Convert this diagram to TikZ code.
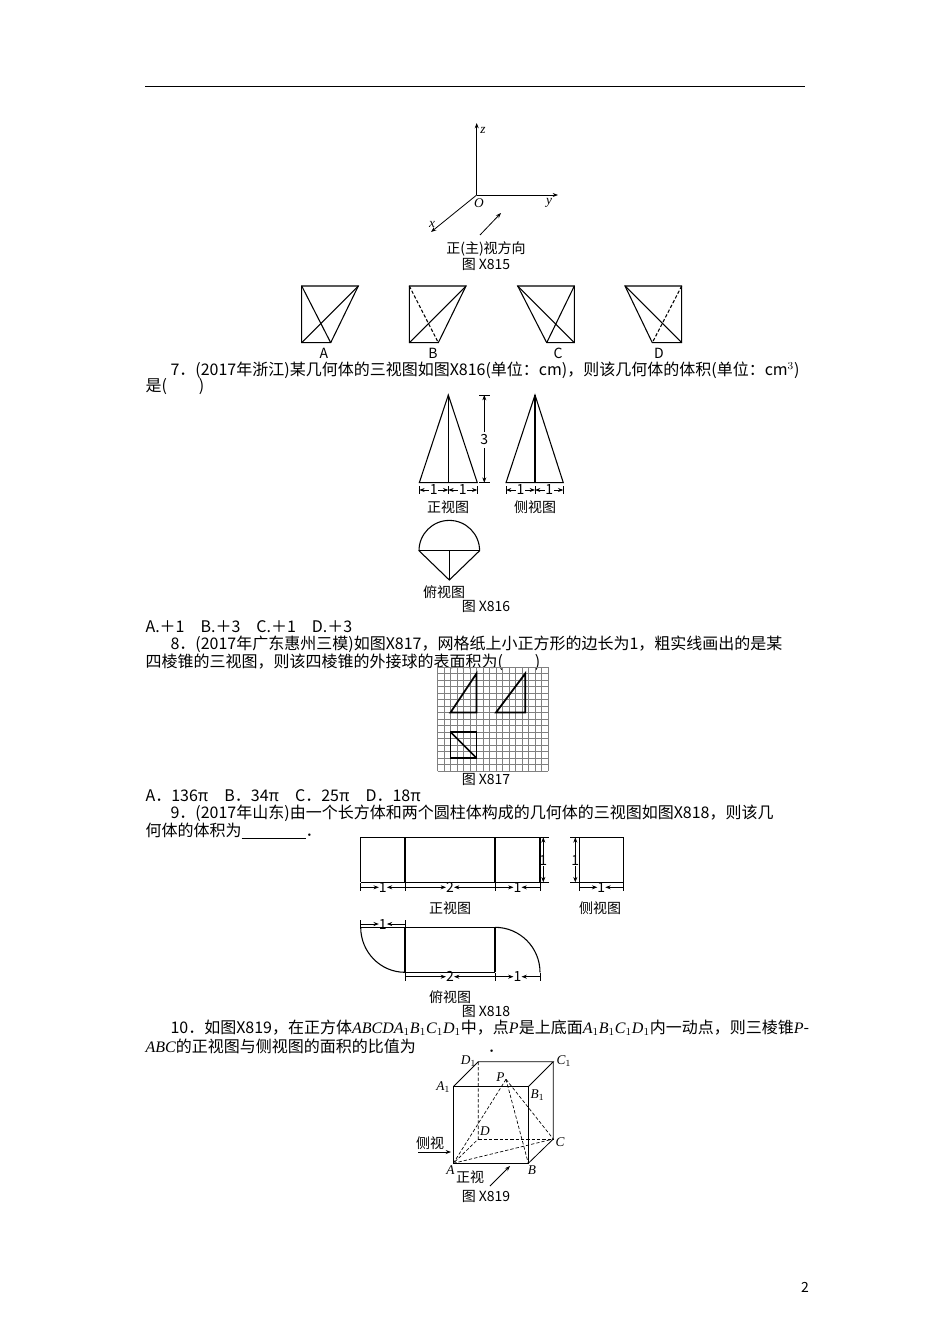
\documentclass[tikz,border=0pt]{standalone}
\usepackage{fontspec}
\setmainfont{Liberation Serif}
\newfontfamily\cjk{Noto Sans CJK SC}
\newcommand\mi[1]{{\rmfamily\itshape #1}}
\usetikzlibrary{arrows.meta}
\begin{document}
\begin{tikzpicture}[x=0.75pt,y=-0.75pt,line width=0.8pt,
  txt/.style={anchor=west,inner sep=0,font=\cjk\fontsize{12}{14}\selectfont},
  captxt/.style={inner sep=0,font=\cjk\fontsize{10.5}{12}\selectfont},
  lab/.style={inner sep=0,font=\fontsize{10}{12}\selectfont\itshape},
  dim/.style={line width=0.5pt},
  ar/.style={-{Stealth[length=4pt,width=3pt]},line width=0.6pt},
  dsh/.style={dashed,dash pattern=on 2.5pt off 1.5pt}]
\useasboundingbox (0,0) rectangle (950,1344);
\fill[white] (0,0) rectangle (950,1344);
\draw[line width=0.6pt] (145,86) -- (805,86);
% X815 axes
\coordinate (O) at (476.7,195);
\coordinate (Z) at (476.7,123);
\coordinate (Y) at (558,195);
\coordinate (X) at (431,232);
\draw[ar] (O)--(Z); \draw[ar] (O)--(Y); \draw[ar] (O)--(X);
\node[lab] at (483,130) {z};
\node[lab] at (549,203) {y};
\node[lab] at (432,224) {x};
\node[lab] at (479,203) {O};
\coordinate (v1) at (480,235); \coordinate (v2) at (501,213);
\draw[ar] (v1)--(v2);
\node[captxt] at (486,249) {正(主)视方向};
\node[captxt] at (486,264) {图 X815};
% options
\draw (301.7,286)--(358.3,286)--(330.7,342.7)--(301.7,342.7)--cycle;
\draw (301.7,286)--(330.7,342.7); \draw (301.7,342.7)--(358.3,286);
\node[captxt] at (324,353) {A};
\draw (409.3,286)--(466,286)--(438.3,342.7)--(409.3,342.7)--cycle;
\draw[dsh] (409.3,286)--(438.3,342.7); \draw (409.3,342.7)--(466,286);
\node[captxt] at (433,353) {B};
\draw (517.7,286)--(574.3,286)--(574.3,342.7)--(546.7,342.7)--cycle;
\draw (517.7,286)--(574.3,342.7); \draw (574.3,286)--(546.7,342.7);
\node[captxt] at (558,353) {C};
\draw (625,286)--(681.7,286)--(681.7,342.7)--(652.3,342.7)--cycle;
\draw (625,286)--(681.7,342.7); \draw[dsh] (681.7,286)--(652.3,342.7);
\node[captxt] at (659,353) {D};
\node[txt] at (170,370) {7．(2017年浙江)某几何体的三视图如图X816(单位：cm)，则该几何体的体积(单位：cm$^3$)};
\node[txt] at (145,387) {是(\hspace{2em})};
% X816
\draw (448.3,395)--(419.3,482.7)--(477.3,482.7)--cycle; \draw (448.3,395)--(448.3,482.7);
\draw[dim] (479,395)--(490,395); \draw[dim] (479,482.7)--(490,482.7);
\draw[ar] (484.3,432)--(484.3,395); \draw[ar] (484.3,448)--(484.3,482.7);
\node[captxt] at (484.3,440) {3};
\draw (535,395)--(506,482.7)--(563.3,482.7)--cycle; \draw (535,395)--(535,482.7);
\foreach \a/\b in {419.3/448.3,448.3/477.3,506/535,535/563.3}{
  \draw[dim] (\a,486)--(\a,494); \draw[dim] (\b,486)--(\b,494);
  \draw[ar] ({(\a+\b)/2-3},490)--(\a,490); \draw[ar] ({(\a+\b)/2+3},490)--(\b,490);
  \node[captxt,fill=white,inner sep=0.5pt] at ({(\a+\b)/2},490) {1};}
\node[captxt] at (448,507) {正视图};
\node[captxt] at (535,507) {侧视图};
\draw (419,550.7) arc[start angle=180,end angle=0,radius=30.3*0.75pt]--(449.3,580)--cycle;
\draw (419,550.7)--(479.6,550.7);
\draw (449.3,550.7)--(449.3,580);
\node[captxt] at (444,592) {俯视图};
\node[captxt] at (486,606) {图 X816};
\node[txt] at (145,627) {A.＋1\quad B.＋3\quad C.＋1\quad D.＋3};
\node[txt] at (170,644) {8．(2017年广东惠州三模)如图X817，网格纸上小正方形的边长为1，粗实线画出的是某};
\node[txt] at (145,662) {四棱锥的三视图，则该四棱锥的外接球的表面积为(\hspace{2em})};
% X817 grid
\begin{scope}[shift={(437.5,667)}]
\draw[line width=0.35pt,gray] (0,0) grid[xstep=6.5,ystep=-6.5] (110.5,104);
\draw[line width=1.3pt] (13,45.5)--(39,6.5)--(39,45.5)--cycle;
\draw[line width=1.3pt] (58.5,45.5)--(87.75,6.5)--(87.75,45.5)--cycle;
\draw[line width=1.3pt] (13,65)--(39,65)--(39,91)--(13,91)--cycle;
\draw[line width=1.3pt] (13,65)--(39,91);
\end{scope}
\node[captxt] at (486,779) {图 X817};
\node[txt] at (145,796) {A．136π\quad B．34π\quad C．25π\quad D．18π};
\node[txt] at (170,813) {9．(2017年山东)由一个长方体和两个圆柱体构成的几何体的三视图如图X818，则该几};
\node[txt] at (145,831) {何体的体积为\underline{\hspace{4em}}．};
% X818 front
\draw (360.7,837.3)--(549.3,837.3); \draw (360.7,882.3)--(549.3,882.3);
\draw (360.7,837.3)--(360.7,882.3); \draw (405,837.3)--(405,882.3);
\draw (495,837.3)--(495,882.3); \draw (540,837.3)--(540,882.3);
\draw[ar] (543.3,855)--(543.3,837.3); \draw[ar] (543.3,866)--(543.3,882.3);
\node[captxt] at (543.3,860) {1};
\foreach \a/\b/\t/\yy in {360.7/405/1/887.3,405/495/2/887.3,495/540/1/887.3,579.3/623.3/1/887.3,405/495/2/976.7,495/540/1/976.7,360.7/405/1/924}{
  \draw[dim] (\a,\yy-4)--(\a,\yy+4); \draw[dim] (\b,\yy-4)--(\b,\yy+4);
  \draw[ar] (\a,\yy)--({(\a+\b)/2-4},\yy); \draw[ar] (\b,\yy)--({(\a+\b)/2+4},\yy);
  \node[captxt] at ({(\a+\b)/2},\yy) {\t};}
\draw (579.3,837.3) rectangle (623.3,882.3);
\draw[dim] (570,837.3)--(579.3,837.3); \draw[dim] (570,882.3)--(579.3,882.3);
\draw[ar] (575.3,855)--(575.3,837.3); \draw[ar] (575.3,866)--(575.3,882.3);
\node[captxt] at (575.3,860) {1};
\node[captxt] at (450,908) {正视图};
\node[captxt] at (600,908) {侧视图};
\draw (360.7,927.3)--(495,927.3);
\draw (360.7,927.3) arc[start angle=180,end angle=270,x radius=44.3*0.75pt,y radius=45*0.75pt];
\draw (405,972.3)--(495,972.3);
\draw (405,927.3)--(405,972.3); \draw (495,927.3)--(495,972.3);
\draw (495,927.3) arc[start angle=90,end angle=0,radius=45*0.75pt];
\node[captxt] at (450,997) {俯视图};
\node[captxt] at (486,1011) {图 X818};
\node[txt] at (170,1028) {10．如图X819，在正方体\mi{ABCDA}$_1$\mi{B}$_1$\mi{C}$_1$\mi{D}$_1$中，点\mi{P}是上底面\mi{A}$_1$\mi{B}$_1$\mi{C}$_1$\mi{D}$_1$内一动点，则三棱锥\mi{P}-};
\node[txt] at (145,1046) {\mi{ABC}的正视图与侧视图的面积的比值为\hspace{4.5em}．};
% X819 cube
\coordinate (A1) at (453.3,1086.7); \coordinate (B1) at (528.3,1086.7);
\coordinate (A) at (453.3,1163.3); \coordinate (B) at (528.3,1163.3);
\coordinate (D1) at (478.3,1061.7); \coordinate (C1) at (553.3,1061.7);
\coordinate (C) at (553.3,1139); \coordinate (D) at (478.3,1139);
\coordinate (P) at (506,1079.3);
\draw[line width=0.6pt] (A)--(B)--(B1)--(A1)--cycle;
\draw[line width=0.6pt] (A1)--(D1)--(C1)--(B1); \draw[line width=0.6pt] (C1)--(C)--(B);
\draw[dsh,line width=0.5pt] (D1)--(D)--(A); \draw[dsh,line width=0.5pt] (D)--(C);
\draw[dsh,line width=0.5pt] (P)--(A); \draw[dsh,line width=0.5pt] (P)--(B);
\draw[dsh,line width=0.5pt] (P)--(C); \draw[dsh,line width=0.5pt] (A)--(C);
\node[lab,anchor=east] at (477,1061) {D$_1$};
\node[lab,anchor=west] at (556,1061) {C$_1$};
\node[lab,anchor=east] at (451,1087) {A$_1$};
\node[lab,anchor=west] at (530,1095) {B$_1$};
\node[lab,anchor=east] at (505,1077) {P};
\node[lab] at (485,1131) {D};
\node[lab,anchor=west] at (555,1142) {C};
\node[lab] at (532,1170) {B};
\node[lab,anchor=east] at (455,1170) {A};
\node[captxt] at (430,1143) {侧视};
\coordinate (s1) at (418,1152); \coordinate (s2) at (451,1152);
\draw[ar] (s1)--(s2);
\node[captxt] at (470,1177) {正视};
\coordinate (f1) at (490,1186); \coordinate (f2) at (510,1166);
\draw[ar] (f1)--(f2);
\node[captxt] at (486,1196) {图 X819};
\node[captxt] at (805,1287) {2};
\end{tikzpicture}
\end{document}
